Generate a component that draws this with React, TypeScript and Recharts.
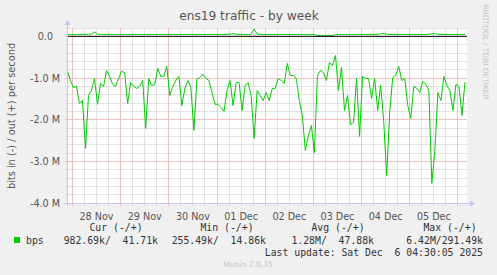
import React from 'react';
import { ComposedChart, Line, XAxis, YAxis, ReferenceLine } from 'recharts';

// 30-ish minute samples, one every 1.5 h starting 2.5 h before 28 Nov 00:00
const START_HOUR = -2.5;
const STEP_HOURS = 1.5;

// bits in (drawn negative), in M
const inValues = [
  -0.82, -1.06, -1.23, -1.20, -1.61, -1.54, -2.69, -1.42, -1.30, -1.01,
  -1.63, -1.13, -1.20, -0.82, -0.96, -1.15, -1.20, -1.01, -0.84, -0.87,
  -1.61, -1.11, -1.20, -1.25, -1.20, -1.06, -2.21, -1.01, -1.18, -1.15,
  -0.77, -0.96, -0.96, -0.72, -1.42, -1.20, -1.06, -0.96, -1.66, -1.25,
  -1.06, -1.23, -2.26, -1.03, -0.99, -0.91, -1.01, -1.06, -1.35, -1.63,
  -1.63, -1.71, -1.80, -1.30, -1.06, -1.66, -1.11, -1.11, -1.78, -1.18,
  -1.11, -1.42, -2.45, -1.30, -1.42, -1.54, -1.35, -1.54, -1.25, -1.25,
  -1.01, -1.06, -1.13, -0.65, -0.94, -0.94, -1.01, -1.54, -1.90, -2.74,
  -2.38, -2.14, -2.79, -0.94, -0.82, -0.87, -1.06, -0.63, -0.70, -0.46,
  -1.30, -0.75, -1.78, -1.42, -2.12, -2.07, -1.01, -2.40, -0.96, -1.01,
  -1.01, -1.49, -1.01, -1.78, -1.18, -2.02, -3.34, -1.83, -0.99, -0.94,
  -0.72, -1.06, -1.01, -1.66, -1.97, -1.20, -1.25, -1.35, -1.08, -1.15,
  -1.30, -3.53, -2.74, -1.35, -1.54, -0.96, -1.18, -1.30, -1.78, -1.15,
  -1.20, -1.90, -1.10,
];

// bits out, in k
const outValues = [
  45, 48, 44, 46, 43, 47, 45, 49, 52, 110,
  50, 46, 44, 47, 45, 43, 48, 46, 44, 47,
  45, 44, 46, 48, 45, 43, 47, 44, 46, 45,
  43, 46, 44, 48, 45, 47, 44, 46, 43, 45,
  47, 45, 44, 46, 48, 45, 43, 46, 44, 47,
  45, 46, 44, 48, 52, 68, 50, 46, 45, 47,
  44, 48, 175, 55, 47, 45, 44, 46, 43, 45,
  47, 44, 46, 45, 43, 46, 44, 48, 45, 47,
  44, 46, 43, 18, 16, 15, 17, 16, 20, 44,
  46, 45, 43, 47, 45, 44, 46, 48, 45, 44,
  46, 43, 45, 47, 62, 70, 52, 45, 44, 46,
  43, 45, 47, 44, 46, 45, 43, 46, 44, 47,
  52, 60, 68, 50, 45, 44, 46, 43, 45, 47,
  44, 46, 45,
];

const dayLabels = ['28 Nov', '29 Nov', '30 Nov', '01 Dec', '02 Dec', '03 Dec', '04 Dec', '05 Dec'];
const yTickValues = [0, -1e6, -2e6, -3e6, -4e6];

const legendHeads = ['Cur (-/+)', 'Min (-/+)', 'Avg (-/+)', 'Max (-/+)'];
const legendValues = ['982.69k/  41.71k', '255.49k/  14.86k', '1.28M/  47.88k', '6.42M/291.49k'];
const lastUpdate = 'Last update: Sat Dec  6 04:30:05 2025';

const W = 497;
const H = 275;
const PLOT = { left: 67, right: 467, top: 28, bottom: 203 };
const X_AXIS_H = 20;
const X_DOMAIN = [-2.7, 196.5];
const Y_DOMAIN = [-4e6, 0.2e6];

const GREEN = '#00cc00';
const TEXT = '#555555';
const AXIS = '#c4c4f4';
const MINOR = '#e2e2e2';
const MAJOR = '#f0c0c0';

const data = inValues.map((v, i) => ({
  t: START_HOUR + i * STEP_HOURS,
  inb: v * 1e6,
  outb: outValues[i] * 1e3,
}));

const labelHours = dayLabels.map((_, i) => 12 + i * 24);
const dayHours = [0, 24, 48, 72, 96, 120, 144, 168, 192];
const sixHours: number[] = [];
for (let h = 6; h < X_DOMAIN[1]; h += 6) if (h % 24 !== 0) sixHours.push(h);
const minorY: number[] = [];
for (let k = -19; k <= 1; k++) if (k % 5 !== 0) minorY.push(k * 0.2e6);

// same linear mapping the chart uses, snapped to pixel centres for the background grid
const gx = (h: number) =>
  Math.floor(PLOT.left + ((h - X_DOMAIN[0]) / (X_DOMAIN[1] - X_DOMAIN[0])) * (PLOT.right - PLOT.left)) + 0.5;
const gy = (v: number) =>
  Math.floor(PLOT.top + ((Y_DOMAIN[1] - v) / (Y_DOMAIN[1] - Y_DOMAIN[0])) * (PLOT.bottom - PLOT.top)) + 0.5;

const fmtY = (v: number) => (v === 0 ? '0.0' : `${(v / 1e6).toFixed(1)} M`);

const YTick = (props: any) => {
  const { x, y, payload } = props;
  const zero = payload.value === 0;
  return (
    <text x={x} y={y} dx={zero ? -7 : 0} dy={3.5} textAnchor="end" fill={TEXT} fontSize={9.6} fontFamily="DejaVu Sans">
      {fmtY(payload.value)}
    </text>
  );
};

export default function App() {
  const mono = { fontFamily: 'DejaVu Sans Mono', fontSize: 9.8, fill: '#333' };
  const colEnds = [158, 266, 374, 483];
  const headCenters = [116, 227, 338, 450];
  return (
    <div style={{ position: 'fixed', left: 0, top: 0, width: W, height: H, background: '#f0f0f0' }}>
      {/* plot background and grid */}
      <svg width={W} height={H} style={{ position: 'absolute', left: 0, top: 0 }}>
        <rect x={PLOT.left} y={PLOT.top} width={PLOT.right - PLOT.left} height={PLOT.bottom - PLOT.top} fill="#ffffff" />
        {sixHours.map((h) => (
          <line key={'v' + h} x1={gx(h)} x2={gx(h)} y1={PLOT.top} y2={PLOT.bottom + 3} stroke={MINOR} />
        ))}
        {minorY.map((v) => (
          <line key={'h' + v} x1={PLOT.left - 2} x2={PLOT.right} y1={gy(v)} y2={gy(v)} stroke={MINOR} />
        ))}
        {dayHours.map((h) => (
          <line key={'d' + h} x1={gx(h)} x2={gx(h)} y1={PLOT.top} y2={PLOT.bottom + 3} stroke={MAJOR} />
        ))}
        {yTickValues.map((v) => (
          <line key={'m' + v} x1={PLOT.left - 2} x2={PLOT.right} y1={gy(v)} y2={gy(v)} stroke={MAJOR} />
        ))}
      </svg>

      <div style={{ position: 'absolute', left: 0, top: 0 }}>
        <ComposedChart
          width={W}
          height={H}
          data={data}
          margin={{ top: PLOT.top, right: W - PLOT.right, bottom: H - PLOT.bottom - X_AXIS_H, left: 0 }}
        >
          <XAxis
            dataKey="t"
            type="number"
            domain={X_DOMAIN}
            ticks={labelHours}
            height={X_AXIS_H}
            tickFormatter={(h: number) => dayLabels[Math.round((h - 12) / 24)]}
            axisLine={false}
            tickLine={false}
            tickMargin={4}
            tick={{ fill: TEXT, fontSize: 9.6, fontFamily: 'DejaVu Sans' }}
            allowDataOverflow
          />
          <YAxis
            type="number"
            domain={Y_DOMAIN}
            ticks={yTickValues}
            width={PLOT.left}
            axisLine={false}
            tickLine={false}
            tickSize={0}
            tickMargin={7}
            tick={<YTick />}
            allowDataOverflow
          />
          <Line type="linear" dataKey="inb" stroke={GREEN} strokeWidth={1} dot={false} isAnimationActive={false} />
          <Line type="linear" dataKey="outb" stroke={GREEN} strokeWidth={1} dot={false} isAnimationActive={false} />
          <ReferenceLine y={0} stroke="#000000" strokeWidth={1} />
        </ComposedChart>
      </div>

      <svg width={W} height={H} style={{ position: 'absolute', left: 0, top: 0, pointerEvents: 'none' }}>
        {/* axes with arrow heads */}
        <line x1={PLOT.left + 0.5} y1={PLOT.bottom + 3} x2={PLOT.left + 0.5} y2={PLOT.top - 4} stroke={AXIS} />
        <polygon points={`${PLOT.left - 2.5},${PLOT.top - 3} ${PLOT.left + 3.5},${PLOT.top - 3} ${PLOT.left + 0.5},${PLOT.top - 8}`} fill={AXIS} />
        <line x1={PLOT.left - 3} y1={PLOT.bottom + 0.5} x2={PLOT.right + 4} y2={PLOT.bottom + 0.5} stroke={AXIS} />
        <polygon points={`${PLOT.right + 3},${PLOT.bottom - 2.5} ${PLOT.right + 3},${PLOT.bottom + 3.5} ${PLOT.right + 8},${PLOT.bottom + 0.5}`} fill={AXIS} />

        <text x={249} y={20} textAnchor="middle" fill={TEXT} fontSize={12.2} fontFamily="DejaVu Sans">
          ens19 traffic - by week
        </text>
        <text
          transform={`translate(15,116) rotate(-90)`}
          textAnchor="middle"
          fill={TEXT}
          fontSize={9.8}
          fontFamily="DejaVu Sans"
        >
          bits in (-) / out (+) per second
        </text>
        <text
          transform={`translate(483,52) rotate(90)`}
          textAnchor="middle"
          fill="#c4c4c4"
          fontSize={7.4}
          fontFamily="DejaVu Sans"
        >
          RRDTOOL / TOBI OETIKER
        </text>

        {legendHeads.map((s, i) => (
          <text key={s} x={headCenters[i]} y={231} textAnchor="middle" style={{ whiteSpace: 'pre' }} {...mono}>
            {s}
          </text>
        ))}
        <rect x={14} y={237} width={6} height={6} fill={GREEN} />
        <text x={26} y={243.5} {...mono}>bps</text>
        {legendValues.map((s, i) => (
          <text key={s} x={colEnds[i]} y={243.5} textAnchor="end" style={{ whiteSpace: 'pre' }} {...mono}>
            {s}
          </text>
        ))}
        <text x={483} y={255.5} textAnchor="end" style={{ whiteSpace: 'pre' }} {...mono}>
          {lastUpdate}
        </text>
        <text x={248} y={267} textAnchor="middle" fill="#c4c4c4" fontSize={7.6} fontFamily="DejaVu Sans">
          Munin 2.0.75
        </text>
      </svg>
    </div>
  );
}
